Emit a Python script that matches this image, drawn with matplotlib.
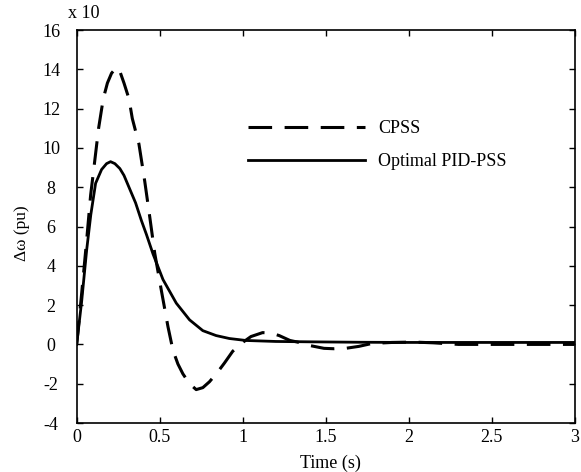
import matplotlib.pyplot as plt
from matplotlib.ticker import FormatStrFormatter, MultipleLocator

plt.rcParams["font.family"] = ["Liberation Serif", "DejaVu Serif"]
plt.rcParams["lines.scale_dashes"] = False
plt.rcParams["axes.unicode_minus"] = False

# CPSS response (x10 pu)
t_cpss = [0.0, 0.03, 0.06, 0.084, 0.104, 0.132, 0.16, 0.185, 0.21, 0.235,
          0.245, 0.26, 0.285, 0.315, 0.335, 0.375, 0.41, 0.44, 0.47, 0.51,
          0.55, 0.58, 0.61, 0.64, 0.68, 0.72, 0.76, 0.8, 0.85, 0.89, 0.94,
          1.0, 1.05, 1.12, 1.17, 1.22, 1.285, 1.33, 1.4, 1.49, 1.55, 1.62,
          1.7, 1.78, 1.9, 2.03, 2.15, 2.3, 2.5, 2.7, 3.0]
w_cpss = [0.0, 2.6, 5.3, 7.6, 9.0, 11.0, 12.5, 13.3, 13.8, 14.05,
          14.1, 13.9, 13.3, 12.5, 11.5, 10.2, 8.3, 6.5, 4.65, 2.75,
          0.9, -0.3, -1.0, -1.5, -2.0, -2.3, -2.2, -1.9, -1.4, -0.95, -0.35,
          0.1, 0.4, 0.6, 0.58, 0.45, 0.2, 0.12, -0.05, -0.2, -0.22, -0.2,
          -0.1, 0.05, 0.1, 0.12, 0.08, 0.0, 0.0, 0.0, 0.0]

# Optimal PID-PSS response (x10 pu)
t_pid = [0.0, 0.03, 0.06, 0.085, 0.114, 0.15, 0.18, 0.204, 0.23, 0.26,
         0.285, 0.32, 0.355, 0.39, 0.42, 0.46, 0.52, 0.6, 0.68, 0.76,
         0.84, 0.92, 1.02, 1.2, 1.42, 1.7, 2.0, 2.5, 3.0]
w_pid = [0.0, 2.2, 4.8, 6.6, 8.2, 8.9, 9.2, 9.3, 9.2, 8.95,
         8.6, 7.9, 7.2, 6.3, 5.6, 4.6, 3.3, 2.1, 1.25, 0.7,
         0.45, 0.3, 0.2, 0.15, 0.13, 0.11, 0.1, 0.1, 0.1]

fig = plt.figure(figsize=(5.81, 4.72), dpi=100)
ax = fig.add_axes([0.132, 0.1038, 0.857, 0.8326])

ax.plot(t_cpss, w_cpss, color="black", lw=2.2, dashes=(17, 9), label="CPSS")
ax.plot(t_pid, w_pid, color="black", lw=2.0, label="Optimal PID-PSS")

ax.set_xlim(0, 3)
ax.set_ylim(-4, 16)
ax.xaxis.set_major_locator(MultipleLocator(0.5))
ax.yaxis.set_major_locator(MultipleLocator(2))
ax.xaxis.set_major_formatter(FormatStrFormatter("%g"))
ax.tick_params(direction="in", top=True, right=True, length=4, width=1,
               labelsize=13)
ax.tick_params(axis="x", pad=4)
ax.tick_params(axis="y", pad=18.5)
for lab in ax.get_yticklabels():
    lab.set_horizontalalignment("center")
for s in ax.spines.values():
    s.set_linewidth(1.2)

ax.set_xlabel("Time (s)", fontsize=13)
ax.xaxis.set_label_coords(0.51, -0.102)
ax.xaxis.label.set_va("center")
ax.set_ylabel("\u0394\u03c9 (pu)", fontsize=12.5)
ax.yaxis.set_label_coords(-0.11, 0.483)
ax.yaxis.label.set_va("center")
ax.text(-0.017, 1.041, "x 10", transform=ax.transAxes, fontsize=13,
        ha="left", va="center")

ax.legend(loc="upper left", bbox_to_anchor=(0.311, 0.812), frameon=False,
          fontsize=13, handlelength=6.5, handletextpad=0.72, labelspacing=0.9)

fig.savefig("out.png", dpi=100)
